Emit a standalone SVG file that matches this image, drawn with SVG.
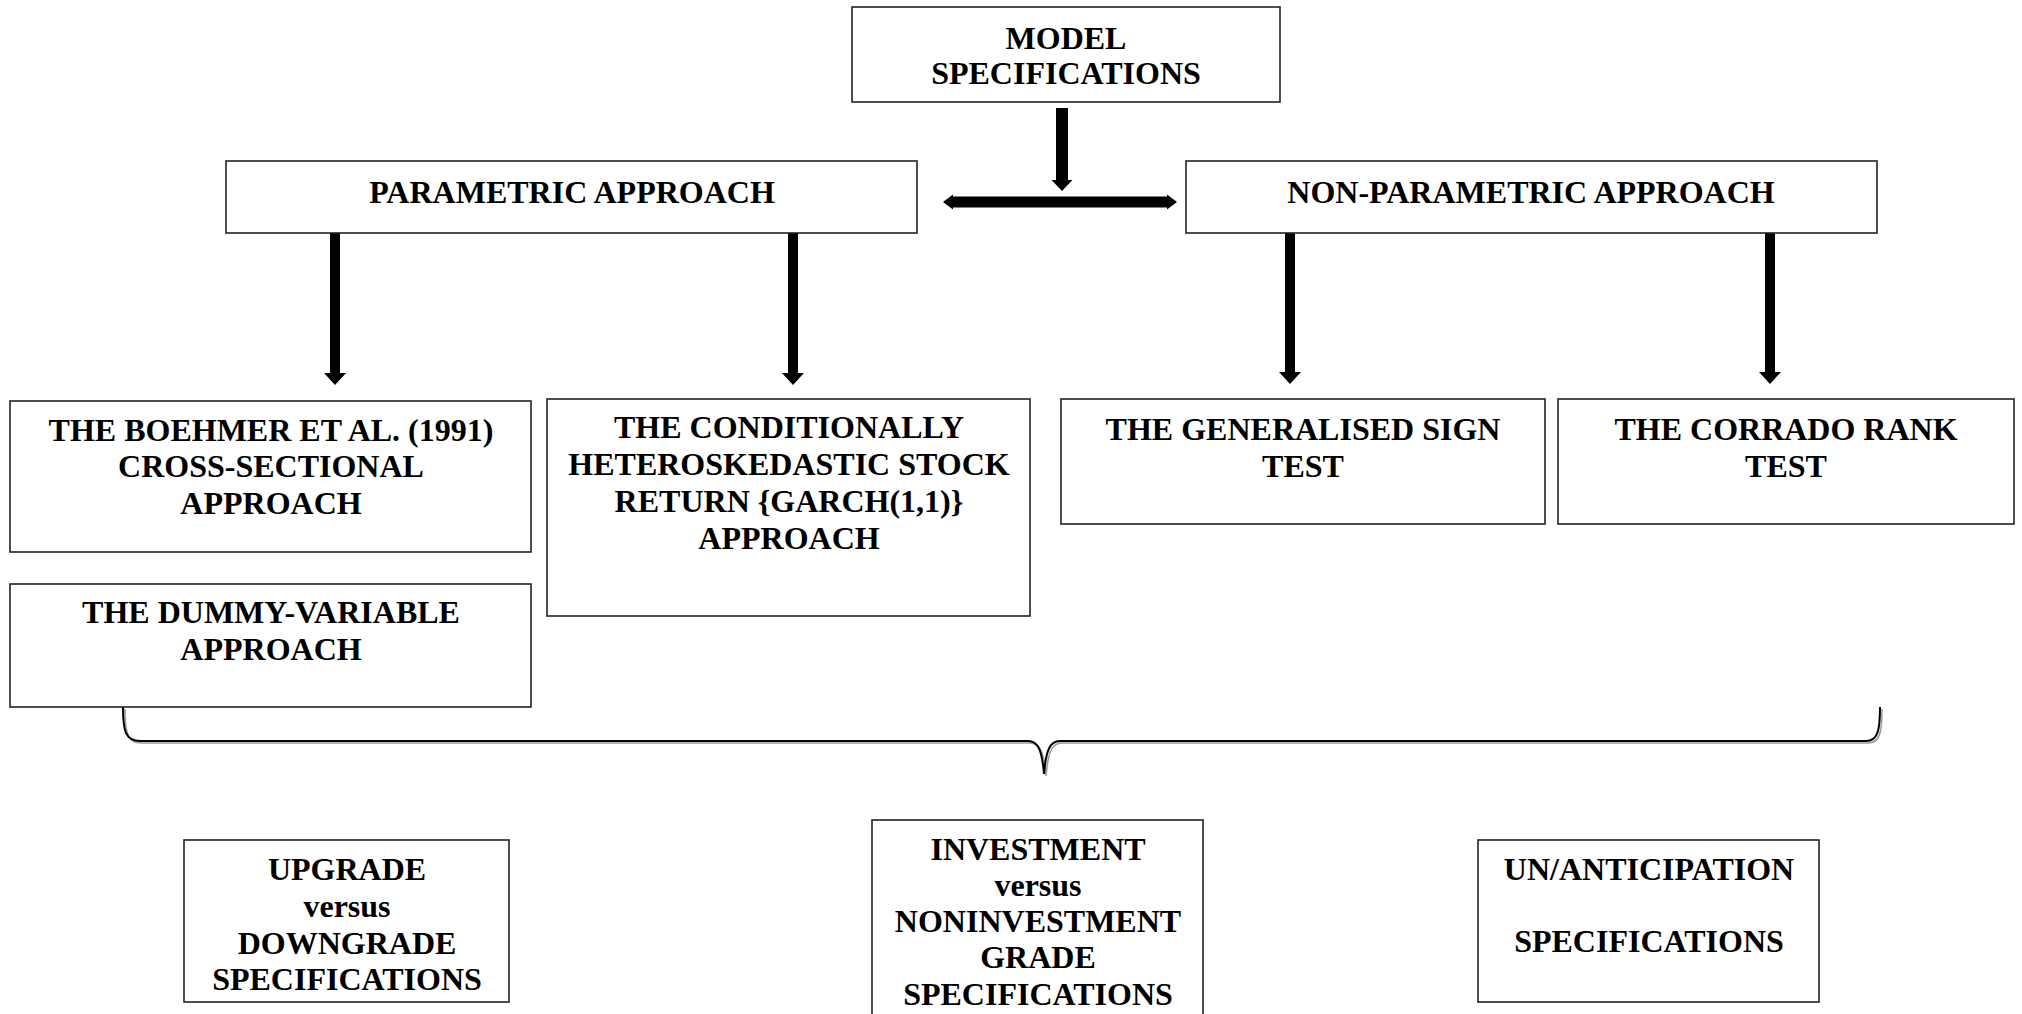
<svg xmlns="http://www.w3.org/2000/svg" width="2022" height="1014" viewBox="0 0 2022 1014">
  <style>
    .box { fill: #ffffff; stroke: #222222; stroke-width: 1.6; }
    .lbl { font-family: "Liberation Serif", "Times New Roman", serif; font-weight: bold; font-size: 32px; fill: #000000; text-anchor: middle; }
    .arrow { fill: #000000; stroke: none; }
    .brace { fill: none; stroke: #000000; stroke-width: 2; }
    .brace-shade { fill: none; stroke: #9a9a9a; stroke-width: 1.5; }
  </style>
  <rect width="2022" height="1014" fill="#ffffff"/>

  <!-- connectors -->
  <g id="connectors">
    <!-- model specifications down to the approaches -->
    <path class="arrow" d="M1056,108 H1068 V180 H1072.5 L1062,191 L1051.5,180 H1056 Z"/>
    <!-- two-way link between the approaches -->
    <path class="arrow" d="M943,202 L953,194.5 V196.5 H1167 V194.5 L1177,202 L1167,209.5 V207.5 H953 V209.5 Z"/>
    <!-- parametric branches -->
    <path class="arrow" d="M330,233 H340 V373 H346 L335,385 L324,373 H330 Z"/>
    <path class="arrow" d="M788,233 H798 V373 H804 L793,385 L782,373 H788 Z"/>
    <!-- non-parametric branches -->
    <path class="arrow" d="M1285,233 H1295 V372 H1301 L1290,384 L1279,372 H1285 Z"/>
    <path class="arrow" d="M1765,233 H1775 V372 H1781 L1770,384 L1759,372 H1765 Z"/>
    <!-- brace gathering all tests -->
    <path class="brace-shade" d="M125,709 C125,732 127,743 142,743 H1030 C1040,743 1044,752 1046,776 M1046,776 C1048,752 1052,743 1062,743 H1868 C1880,743 1882,732 1882,709"/>
    <path class="brace" d="M123,707 C123,730 125,741 140,741 H1028 C1038,741 1042,750 1044,774 C1046,750 1050,741 1060,741 H1866 C1878,741 1880,730 1880,707"/>
  </g>

  <g id="model-specifications">
    <rect class="box" x="852" y="7" width="428" height="95"/>
    <text class="lbl" x="1066" y="49">MODEL</text>
    <text class="lbl" x="1066" y="84">SPECIFICATIONS</text>
  </g>

  <g id="parametric-approach">
    <rect class="box" x="226" y="161" width="691" height="72"/>
    <text class="lbl" x="572" y="203">PARAMETRIC APPROACH</text>
  </g>

  <g id="non-parametric-approach">
    <rect class="box" x="1186" y="161" width="691" height="72"/>
    <text class="lbl" x="1531" y="203">NON-PARAMETRIC APPROACH</text>
  </g>

  <g id="boehmer">
    <rect class="box" x="10" y="401" width="521" height="151"/>
    <text class="lbl" x="271" y="441">THE BOEHMER ET AL. (1991)</text>
    <text class="lbl" x="271" y="477">CROSS-SECTIONAL</text>
    <text class="lbl" x="271" y="514">APPROACH</text>
  </g>

  <g id="dummy-variable">
    <rect class="box" x="10" y="584" width="521" height="123"/>
    <text class="lbl" x="271" y="623">THE DUMMY-VARIABLE</text>
    <text class="lbl" x="271" y="660">APPROACH</text>
  </g>

  <g id="garch">
    <rect class="box" x="547" y="399" width="483" height="217"/>
    <text class="lbl" x="789" y="438">THE CONDITIONALLY</text>
    <text class="lbl" x="789" y="475">HETEROSKEDASTIC STOCK</text>
    <text class="lbl" x="789" y="512">RETURN {GARCH(1,1)}</text>
    <text class="lbl" x="789" y="549">APPROACH</text>
  </g>

  <g id="sign-test">
    <rect class="box" x="1061" y="399" width="484" height="125"/>
    <text class="lbl" x="1303" y="440">THE GENERALISED SIGN</text>
    <text class="lbl" x="1303" y="477">TEST</text>
  </g>

  <g id="rank-test">
    <rect class="box" x="1558" y="399" width="456" height="125"/>
    <text class="lbl" x="1786" y="440">THE CORRADO RANK</text>
    <text class="lbl" x="1786" y="477">TEST</text>
  </g>

  <g id="upgrade-downgrade">
    <rect class="box" x="184" y="840" width="325" height="162"/>
    <text class="lbl" x="347" y="880">UPGRADE</text>
    <text class="lbl" x="347" y="917">versus</text>
    <text class="lbl" x="347" y="954">DOWNGRADE</text>
    <text class="lbl" x="347" y="990">SPECIFICATIONS</text>
  </g>

  <g id="investment-grade">
    <rect class="box" x="872" y="820" width="331" height="200"/>
    <text class="lbl" x="1038" y="860">INVESTMENT</text>
    <text class="lbl" x="1038" y="896">versus</text>
    <text class="lbl" x="1038" y="932">NONINVESTMENT</text>
    <text class="lbl" x="1038" y="968">GRADE</text>
    <text class="lbl" x="1038" y="1005">SPECIFICATIONS</text>
  </g>

  <g id="anticipation">
    <rect class="box" x="1478" y="840" width="341" height="162"/>
    <text class="lbl" x="1649" y="880">UN/ANTICIPATION</text>
    <text class="lbl" x="1649" y="952">SPECIFICATIONS</text>
  </g>
</svg>
